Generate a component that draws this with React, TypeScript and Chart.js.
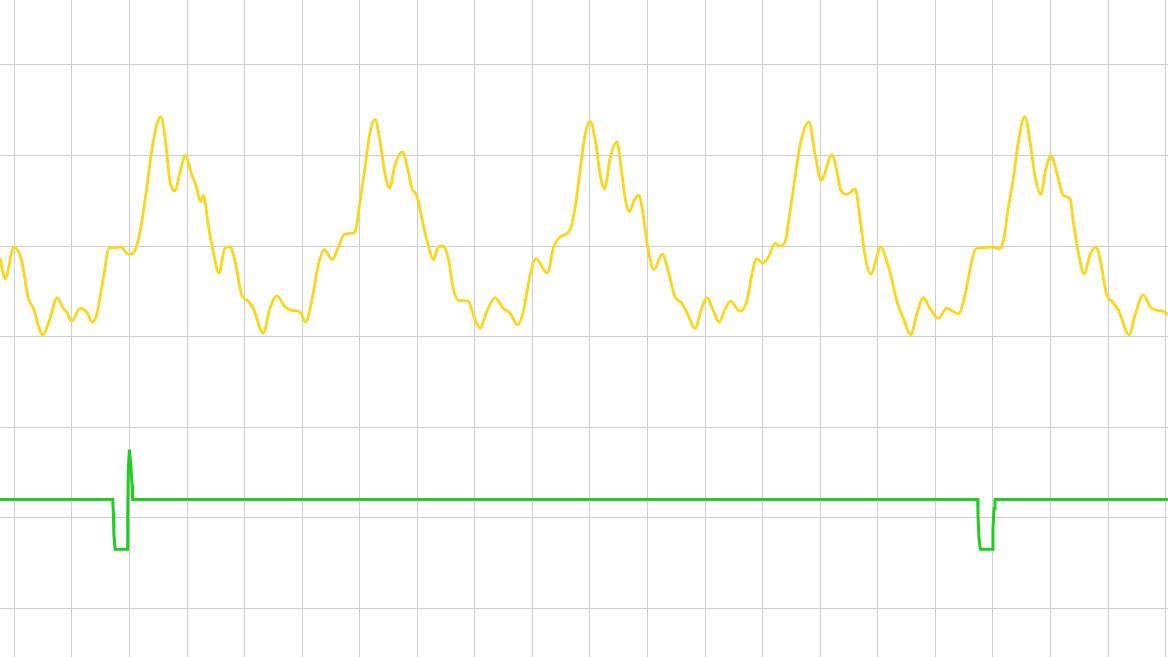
import React, { useEffect, useRef } from "react";
import { Chart, registerables } from "chart.js";

Chart.register(...registerables);

// Time axis in milliseconds (one grid cell = 200 ms), amplitude in grid units
const X_MIN = -49.7;
const X_MAX = 4008.1;
const Y_MIN = -0.541;
const Y_MAX = 6.718;
const X_STEP = 200;
const Y_STEP = 1;

// Pulse waveform (yellow)
const pulseTimes = [
  -50, -32, -1, 26, 49, 65, 99, 124, 149, 170, 182, 199, 228, 254, 271, 286, 309, 330, 350, 370,
  396, 413, 437, 460, 477, 495, 509, 524, 541, 558, 576, 594, 616, 632, 647, 657, 674, 691, 711, 732,
  749, 767, 790, 813, 830, 865, 888, 912, 940, 964, 993, 1012, 1033, 1056, 1077, 1105, 1126, 1147, 1172, 1184,
  1201, 1218, 1236, 1253, 1271, 1288, 1303, 1323, 1348, 1369, 1381, 1398, 1421, 1438, 1456, 1473, 1488, 1508, 1525, 1543,
  1577, 1595, 1618, 1641, 1670, 1699, 1722, 1748, 1768, 1792, 1812, 1852, 1873, 1896, 1931, 1948, 1965, 1983, 2000, 2023,
  2035, 2050, 2070, 2093, 2110, 2122, 2137, 2154, 2170, 2185, 2201, 2222, 2251, 2272, 2295, 2319, 2336, 2365, 2388, 2406,
  2428, 2448, 2469, 2489, 2521, 2545, 2562, 2579, 2600, 2620, 2643, 2660, 2678, 2695, 2712, 2730, 2761, 2782, 2803, 2841,
  2857, 2871, 2892, 2921, 2938, 2955, 2975, 3011, 3031, 3048, 3066, 3089, 3114, 3135, 3158, 3181, 3210, 3239, 3280, 3303,
  3326, 3341, 3366, 3401, 3417, 3436, 3453, 3471, 3488, 3511, 3529, 3546, 3566, 3583, 3602, 3621, 3644, 3668, 3679, 3696,
  3717, 3737, 3757, 3772, 3795, 3813, 3836, 3873, 3894, 3922, 3946, 3969, 3992, 4008,
];
const pulseValues = [
  3.87, 3.64, 3.99, 3.83, 3.42, 3.32, 3.02, 3.2, 3.43, 3.31, 3.27, 3.17, 3.31, 3.26, 3.16, 3.24, 3.64, 3.98, 3.98, 3.99,
  3.91, 3.92, 4.16, 4.64, 5.04, 5.34, 5.43, 5.19, 4.71, 4.61, 4.82, 5.0, 4.79, 4.66, 4.49, 4.56, 4.23, 3.94, 3.7, 3.98,
  3.99, 3.83, 3.46, 3.39, 3.31, 3.04, 3.31, 3.45, 3.33, 3.29, 3.27, 3.16, 3.39, 3.79, 3.96, 3.85, 3.99, 4.13, 4.14, 4.16,
  4.49, 4.86, 5.26, 5.4, 5.15, 4.79, 4.64, 4.9, 5.04, 4.82, 4.64, 4.56, 4.23, 4.01, 3.85, 3.99, 4.0, 3.86, 3.53, 3.4,
  3.39, 3.24, 3.09, 3.27, 3.43, 3.31, 3.26, 3.13, 3.27, 3.68, 3.86, 3.7, 3.98, 4.1, 4.18, 4.42, 4.82, 5.23, 5.38, 5.08,
  4.79, 4.63, 4.97, 5.15, 4.82, 4.53, 4.38, 4.51, 4.56, 4.34, 3.98, 3.74, 3.91, 3.72, 3.44, 3.37, 3.27, 3.09, 3.31, 3.43,
  3.29, 3.16, 3.3, 3.39, 3.28, 3.39, 3.68, 3.86, 3.81, 3.88, 4.03, 4.0, 4.05, 4.38, 4.75, 5.12, 5.37, 5.01, 4.73, 5.01,
  4.84, 4.62, 4.57, 4.63, 4.31, 3.9, 3.69, 3.99, 3.83, 3.64, 3.39, 3.2, 3.02, 3.24, 3.43, 3.31, 3.2, 3.31, 3.25, 3.46,
  3.83, 3.97, 3.98, 3.99, 3.97, 4.05, 4.42, 4.75, 5.15, 5.43, 5.15, 4.77, 4.57, 4.84, 5.0, 4.82, 4.56, 4.52, 4.27, 3.94,
  3.69, 3.9, 3.99, 3.86, 3.46, 3.39, 3.29, 3.02, 3.24, 3.46, 3.33, 3.29, 3.28, 3.24,
];

// Marker trace (green)
const markerTimes = [
  -50, 342, 344, 346, 350, 392, 394, 396, 400, 404, 409, 411,
  3347, 3348, 3351, 3356, 3399, 3400, 3404, 3407, 4010,
];
const markerValues = [
  1.2, 1.2, 1.05, 0.81, 0.65, 0.65, 1.05, 1.53, 1.75, 1.61, 1.36, 1.2,
  1.2, 1.03, 0.79, 0.65, 0.65, 0.88, 1.1, 1.2, 1.2,
];

const zip = (xs: number[], ys: number[]) => xs.map((x, i) => ({ x, y: ys[i] }));

// Place grid ticks on whole multiples of the step inside the visible range
const stepTicks = (step: number) => (scale: any) => {
  const ticks: { value: number }[] = [];
  const start = Math.ceil(scale.min / step) * step;
  for (let v = start; v <= scale.max + 1e-9; v += step) {
    ticks.push({ value: Math.round(v * 1000) / 1000 });
  }
  scale.ticks = ticks;
};

export default function App() {
  const canvasRef = useRef<HTMLCanvasElement | null>(null);

  useEffect(() => {
    const canvas = canvasRef.current;
    if (!canvas) return;
    const chart = new Chart(canvas, {
      type: "line",
      data: {
        datasets: [
          {
            label: "Pulse",
            data: zip(pulseTimes, pulseValues),
            borderColor: "rgb(250, 214, 30)",
            borderWidth: 2.8,
            pointRadius: 0,
            cubicInterpolationMode: "monotone",
            fill: false,
          },
          {
            label: "Marker",
            data: zip(markerTimes, markerValues),
            borderColor: "rgb(34, 204, 34)",
            borderWidth: 3,
            pointRadius: 0,
            tension: 0,
            fill: false,
          },
        ],
      },
      options: {
        animation: false,
        responsive: true,
        maintainAspectRatio: false,
        parsing: false,
        layout: { padding: 0 },
        plugins: {
          legend: { display: false },
          tooltip: { enabled: false },
          title: { display: false },
        },
        scales: {
          x: {
            type: "linear",
            bounds: "data",
            min: X_MIN,
            max: X_MAX,
            afterBuildTicks: stepTicks(X_STEP),
            ticks: { display: false },
            grid: { color: "#cfcfcf", lineWidth: 1, drawTicks: false },
            border: { display: false },
          },
          y: {
            type: "linear",
            bounds: "data",
            min: Y_MIN,
            max: Y_MAX,
            afterBuildTicks: stepTicks(Y_STEP),
            ticks: { display: false },
            grid: { color: "#cfcfcf", lineWidth: 1, drawTicks: false },
            border: { display: false },
          },
        },
      },
    });
    return () => chart.destroy();
  }, []);

  return (
    <div
      style={{
        position: "fixed",
        left: 0,
        top: 0,
        width: "1168px",
        height: "657px",
        background: "#ffffff",
      }}
    >
      <canvas ref={canvasRef} />
    </div>
  );
}
